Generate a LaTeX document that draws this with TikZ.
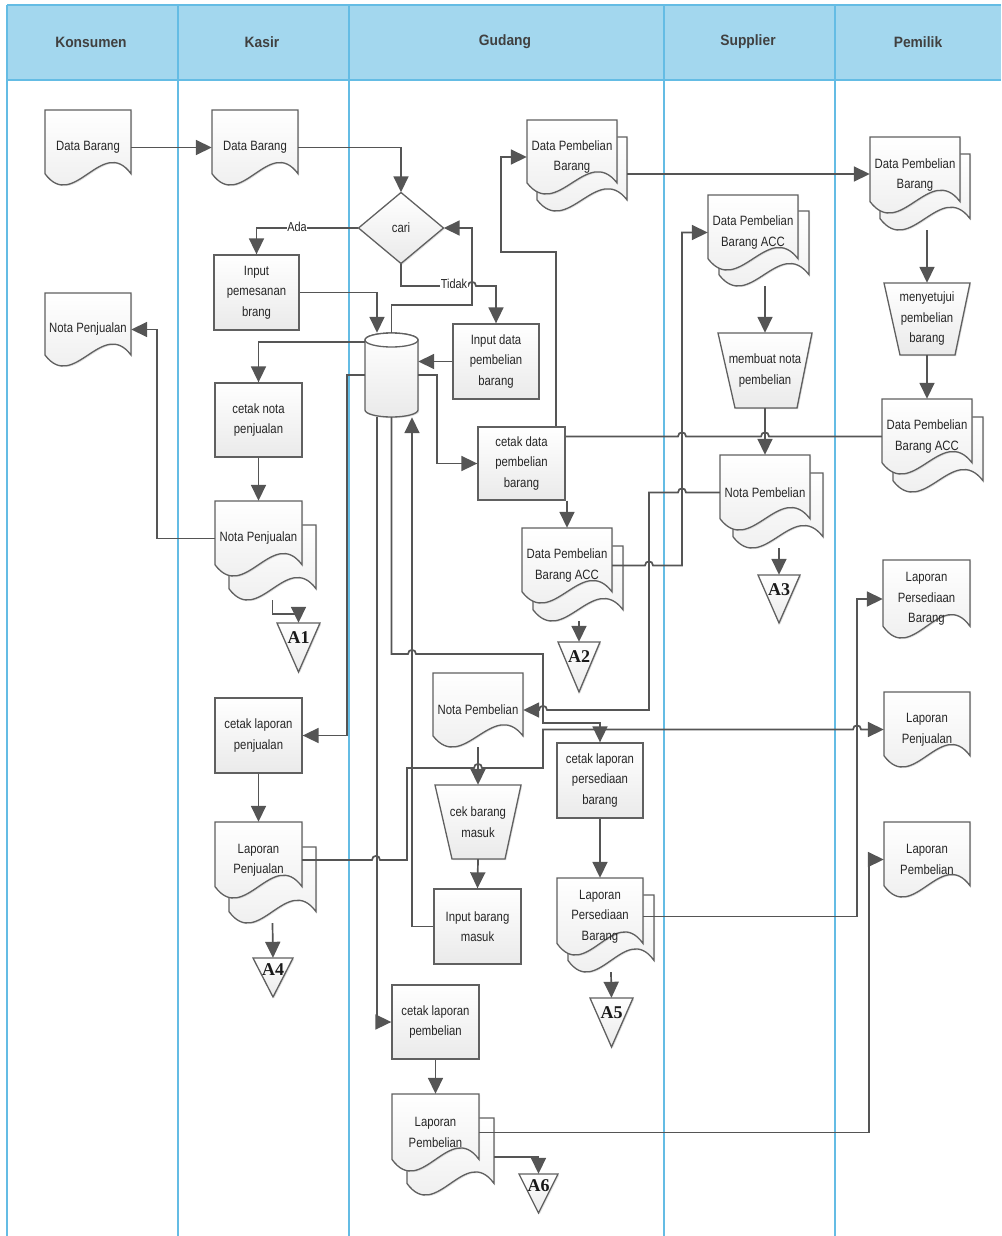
\documentclass[tikz,border=0pt]{standalone}
\usepackage{fontspec}
\setmainfont{Liberation Sans}
\newfontfamily\shfont[FakeStretch=0.84]{Liberation Sans}
\newfontfamily\hdfont[FakeStretch=0.92]{Liberation Sans}
\newfontfamily\trfont{Liberation Serif}
\usetikzlibrary{arrows.meta,shadows}
\definecolor{hdrc}{RGB}{163,215,238}
\definecolor{lanec}{RGB}{100,188,228}
\definecolor{bordc}{RGB}{96,96,96}
\definecolor{linec}{RGB}{85,85,85}
\definecolor{shg}{RGB}{234,234,234}
\tikzset{
 shp/.style={draw=bordc, line width=1.3pt, top color=white, bottom color=shg,
   drop shadow={shadow xshift=1.2pt, shadow yshift=-1.2pt, fill=black!30, opacity=.4}},
 txt/.style={inner sep=0pt, align=center, font=\shfont\fontsize{13.5}{20.5}\selectfont, text=black!85},
 inv/.style={inner sep=0pt, draw=none},
 pbx/.style={shp, txt, rectangle},
 ln/.style={draw=linec, line width=1.7pt},
 arr/.style={ln, -{Triangle[length=16pt,width=15pt]}},
 trtxt/.style={inner sep=0pt, font=\trfont\bfseries\fontsize{18}{18}\selectfont, text=black!90},
 hdr/.style={font=\hdfont\bfseries\fontsize{15}{15}\selectfont, text=black!75},
 lane/.style={draw=lanec, line width=1.8pt},
 lbl/.style={fill=white, inner sep=0.5pt, font=\shfont\fontsize{13}{13}\selectfont, text=black!85}
}
\newcommand{\docshape}[4]{%
 \path[shp] ({#1},{#2}) -- ({#1+#3},{#2}) -- ({#1+#3},{#2+0.85*#4})
   .. controls ({#1+#3*2/3},{#2+0.33*#4}) and ({#1+#3/3},{#2+1.37*#4}) .. ({#1},{#2+0.85*#4}) -- cycle;}
\newcommand{\mkdoc}[6]{\docshape{#2}{#3}{#4}{#5}%
 \node[txt, minimum width=#4pt, minimum height=#5pt] (#1) at ({#2+#4/2},{#3+#5/2}) {#6};}
\newcommand{\mkmdoc}[8]{\docshape{#2+#6}{#3+#7}{#4}{#5}%
 \node[inv, minimum width=#4pt, minimum height=#5pt] (#1-b) at ({#2+#6+#4/2},{#3+#7+#5/2}) {};%
 \mkdoc{#1}{#2}{#3}{#4}{#5}{#8}}
\newcommand{\mkbox}[6]{\node[pbx, minimum width=#4pt, minimum height=#5pt] (#1) at ({#2+#4/2},{#3+#5/2}) {#6};}
\newcommand{\mktri}[6]{%
 \path[shp] ({#2},{#3}) -- ({#2+#4},{#3}) -- ({#2+#4/2},{#3+#5}) -- cycle;
 \node[inv, minimum width=#4pt, minimum height=#5pt] (#1) at ({#2+#4/2},{#3+#5/2}) {};
 \node[trtxt] (#1-t) at ({#2+#4/2},{#3+0.3*#5}) {#6};}
\newcommand{\mktrap}[8]{%
 \path[shp] ({#2},{#6}) -- ({#3},{#6}) -- ({#5},{#7}) -- ({#4},{#7}) -- cycle;
 \node[txt, minimum width={(#3-#2)*1pt}, minimum height={(#7-#6)*1pt}] (#1) at ({(#2+#3)/2},{(#6+#7)/2}) {#8};}
\begin{document}
\begin{tikzpicture}[x=1pt,y=-1pt]
\useasboundingbox (0,0) rectangle (1001,1236);
% header and lanes
\fill[hdrc] (7,5) rectangle (1001,80);
\foreach \xx in {7,178,349,664,835} {\draw[lane] (\xx,5) -- (\xx,1236);}
\draw[lane] (7,5) -- (1001,5);
\draw[lane] (7,80) -- (1001,80);
\node[hdr] (h1) at (91,42) {Konsumen};
\node[hdr] (h2) at (262,42) {Kasir};
\node[hdr] (h3) at (505,42) {Gudang};
\node[hdr] (h4) at (748,42) {Supplier};
\node[hdr] (h5) at (918,42) {Pemilik};
% Konsumen
\mkdoc{kdb}{45}{110}{86}{75}{Data Barang}
\mkdoc{knota}{45}{293}{86}{73}{Nota Penjualan}
% Kasir
\mkdoc{sdb}{212}{110}{86}{75}{Data Barang}
\mkbox{inpes}{214}{255}{85}{75}{Input\\pemesanan\\brang}
\mkbox{cnota}{215}{383}{87}{74}{cetak nota\\penjualan}
\mkmdoc{snota}{215}{501}{87}{75}{14}{24}{Nota Penjualan}
\mktri{a1}{277}{623}{43}{49}{A1}
\mkbox{clpj}{215}{698}{87}{75}{cetak laporan\\penjualan}
\mkmdoc{lpj}{215}{822}{87}{76}{14}{25}{Laporan\\Penjualan}
\mktri{a4}{253}{958}{40}{39}{A4}
% Gudang
\path[shp] (401,192.5) -- (443.5,228) -- (401,263.5) -- (358.5,228) -- cycle;
\node[txt, minimum width=85pt, minimum height=71pt] (cari) at (401,228) {cari};
\path[shp] (365,340) -- (365,410) .. controls (365,413.9) and (376.9,417) .. (391.5,417)
  .. controls (406.1,417) and (418,413.9) .. (418,410) -- (418,340)
  .. controls (418,336.1) and (406.1,333) .. (391.5,333)
  .. controls (376.9,333) and (365,336.1) .. (365,340) -- cycle;
\path[draw=bordc, line width=1.3pt, fill=white] (391.5,340) ellipse [x radius=26.5, y radius=7];
\node[inv, minimum width=53pt, minimum height=84pt] (db) at (391.5,375) {};
\mkbox{inpb}{453}{324}{86}{75}{Input data\\pembelian\\barang}
\mkbox{cdpb}{478}{427}{87}{73}{cetak data\\pembelian\\barang}
\mkmdoc{gdpb}{527}{120}{90}{74}{10}{17}{Data Pembelian\\Barang}
\mkmdoc{gacc}{522}{528}{90}{75}{11}{18}{Data Pembelian\\Barang ACC}
\mktri{a2}{558}{642}{42}{50}{A2}
\mkdoc{gnp}{433}{673}{90}{74}{Nota Pembelian}
\mktrap{cek}{435}{521}{452}{505}{785}{859}{cek barang\\masuk}
\mkbox{inbm}{434}{889}{87}{75}{Input barang\\masuk}
\mkbox{clps}{557}{743}{86}{75}{cetak laporan\\persediaan\\barang}
\mkmdoc{lps}{557}{878}{86}{77}{11}{17}{Laporan\\Persediaan\\Barang}
\mktri{a5}{590}{998}{43}{49}{A5}
\mkbox{clpb}{392}{985}{87}{74}{cetak laporan\\pembelian}
\mkmdoc{lpb}{392}{1094}{87}{77}{15}{24}{Laporan\\Pembelian}
\mktri{a6}{519}{1174}{39}{39}{A6}
% Supplier
\mkmdoc{sacc}{708}{195}{90}{75}{11}{16}{Data Pembelian\\Barang ACC}
\mktrap{mnp}{718}{812}{735}{797}{333}{408}{membuat nota\\pembelian}
\mkmdoc{snp}{720}{455}{90}{75}{13}{18}{Nota Pembelian}
\mktri{a3}{758}{575}{42}{48}{A3}
% Pemilik
\mkmdoc{pdpb}{870}{137}{90}{76}{10}{17}{Data Pembelian\\Barang}
\mktrap{setuju}{884}{970}{900}{955}{283}{355}{menyetujui\\pembelian\\barang}
\mkmdoc{pacc}{882}{399}{90}{75}{11}{18}{Data Pembelian\\Barang ACC}
\mkdoc{plps}{883}{560}{87}{78}{Laporan\\Persediaan\\Barang}
\mkdoc{plpj}{884}{692}{86}{75}{Laporan\\Penjualan}
\mkdoc{plpb}{884}{822}{86}{75}{Laporan\\Pembelian}
% connectors
\draw[arr] (kdb.east) -- (sdb.west);
\draw[arr] (sdb.east) -| (cari.north);
\draw[arr] (cari.west) -| (inpes.north);
\node[lbl] (ada) at (297,227) {Ada};
\draw[arr] (cari.south) |- (468,286) .. controls (468,280.5) and (476,280.5) .. (476,286) -| (inpb.north);
\node[lbl] (tidak) at (454,284) {Tidak};
\draw[arr] (db.north) |- (472,305) |- (cari.east);
\draw[arr] (inpes.east) -| ([xshift=-14.5pt]db.north);
\draw[arr] (db.west |- 0,342) -| (cnota.north);
\draw[arr] (inpb.west) -- (inpb.west -| db.east);
\draw[arr] (db.east) -- (437,375) |- (cdpb.west);
\draw[arr] (cdpb.north -| 556,0) |- (501,252) |- (gdpb.west);
\draw[arr] (gdpb-b.east) -- (gdpb-b.east -| pdpb.west);
\draw[arr] (cnota.south) -- (snota.north);
\draw[arr] (snota.west) -- (snota.west -| 157,0) |- (knota.east);
\draw[arr] (snota-b.south) |- (a1.north |- 0,614) -- (a1.north);
\draw[arr] (db.west) -- (347,375) |- (clpj.east);
\draw[arr] (clpj.south) -- (lpj.north);
\draw[arr] (lpj-b.south) -- (a4.north);
\draw[arr] (lpj.east) -- (372,860) .. controls (372,854.5) and (380,854.5) .. (380,860) -- (407,860)
  |- (474,768) .. controls (474,762.5) and (482,762.5) .. (482,768) -- (543,768)
  |- (853,729.5) .. controls (853,724) and (861,724) .. (861,729.5) -- (plpj.west);
\draw[ln] (pacc.west) -- (769,436.5) .. controls (769,431) and (761,431) .. (761,436.5)
  -- (686,436.5) .. controls (686,431) and (678,431) .. (678,436.5) -- (cdpb.east |- pacc.west);
\draw[arr] (cdpb.south -| gacc.north) -- (gacc.north);
\draw[arr] (a2.north |- gacc-b.south) -- (a2.north);
\draw[arr] (gacc.east) -- (645,565.5) .. controls (645,560) and (653,560) .. (653,565.5) -- (682,565.5) |- (sacc.west);
\draw[arr] (sacc-b.south -| mnp.north) -- (mnp.north);
\draw[arr] (mnp.south) -- (snp.north);
\draw[arr] (a3.north |- snp-b.south) -- (a3.north);
\draw[arr] (snp.west) -- (686,492.5) .. controls (686,487) and (678,487) .. (678,492.5) -- (649,492.5)
  |- (547,710) .. controls (547,704.5) and (539,704.5) .. (539,710) -- (gnp.east);
\draw[arr] (gnp.south) -- (cek.north);
\draw[arr] (cek.south) -- (inbm.north);
\draw[arr] (inbm.west) -| (db.south -| 412,0);
\draw[arr] (db.south) |- (408,654) .. controls (408,648.5) and (416,648.5) .. (416,654) -- (543,654) |- (600,723) -- (clps.north);
\draw[arr] (db.south -| 377,0) |- (clpb.west);
\draw[arr] (clps.south) -- (lps.north);
\draw[arr] (lps.east) -- (857,916.5) |- (plps.west);
\draw[arr] (lps-b.south) -- (a5.north);
\draw[arr] (clpb.south) -- (lpb.north);
\draw[arr] (lpb.east) -- (869,1132.5) |- (plpb.west);
\draw[arr] (lpb-b.east |- 0,1157) -| (a6.north);
\draw[arr] (setuju.north |- pdpb-b.south) -- (setuju.north);
\draw[arr] (setuju.south) -- (pacc.north);
\end{tikzpicture}
\end{document}
